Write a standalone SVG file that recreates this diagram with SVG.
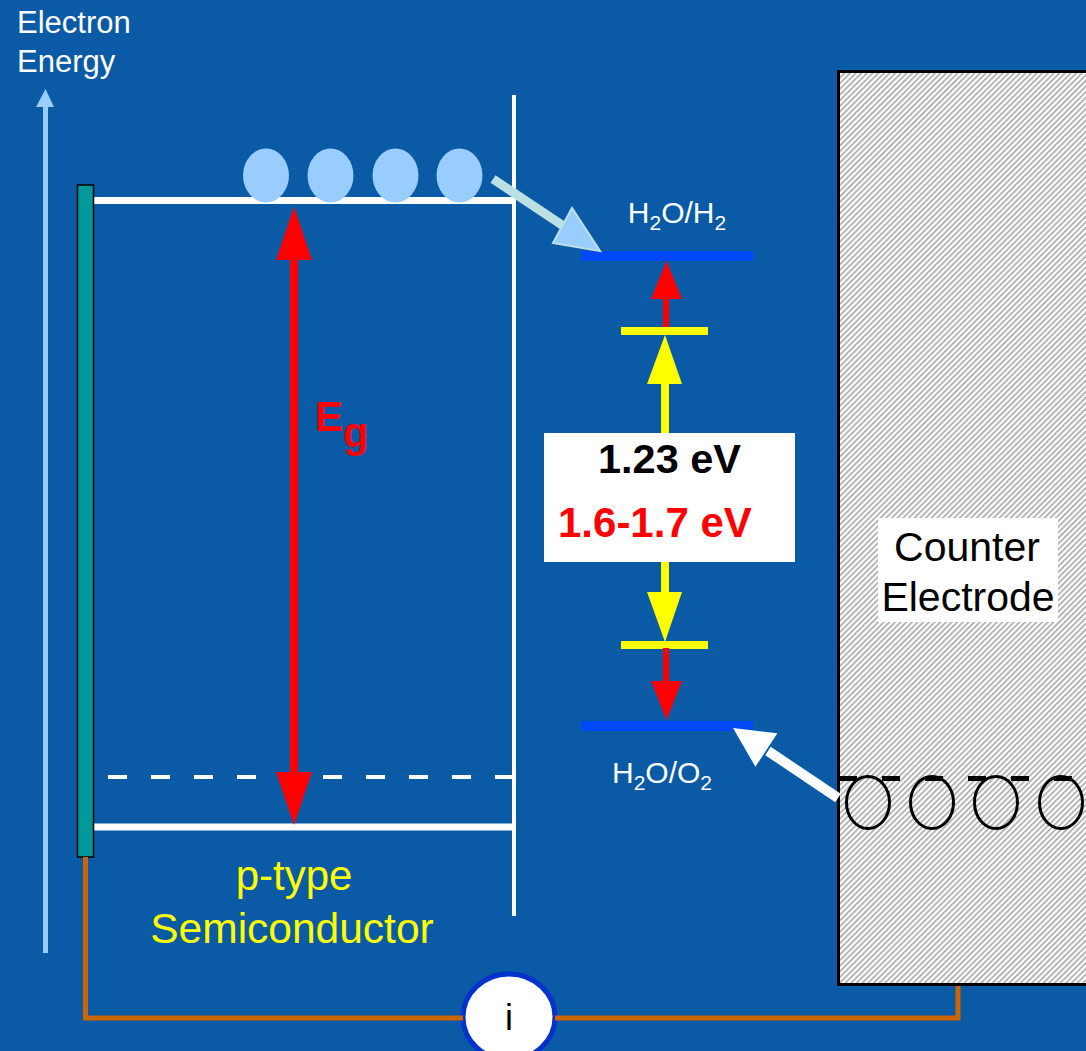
<svg xmlns="http://www.w3.org/2000/svg" width="1086" height="1051" viewBox="0 0 1086 1051">
<defs>
<pattern id="hatch" patternUnits="userSpaceOnUse" width="4" height="4" patternTransform="rotate(45)">
<rect width="4" height="4" fill="#ffffff"/>
<rect width="1.6" height="4" fill="#a6a6a6"/>
</pattern>
</defs>
<style>
text{font-family:"Liberation Sans",Arial,sans-serif}
.w{fill:#ffffff}
.wl{stroke:#ffffff;fill:none}
.bar{fill:#0048FF}
.red{fill:#FF0000}
.yel{fill:#FFFF00}
.el{fill:#99CCFF}
</style>
<rect width="1086" height="1051" fill="#0A5AA6"/>

<g id="axis">
<line x1="45.5" y1="953" x2="45.5" y2="104" stroke="#99CCFF" stroke-width="5"/>
<polygon points="45.5,89 54,107 36,107" fill="#99CCFF"/>
<text x="17" y="33" font-size="31" class="w">Electron</text>
<text x="17" y="72" font-size="31" class="w">Energy</text>
</g>

<g id="semiconductor">
<line x1="93" y1="200.5" x2="514" y2="200.5" class="wl" stroke-width="7"/>
<line x1="93" y1="827" x2="514" y2="827" class="wl" stroke-width="7"/>
<line x1="108" y1="777" x2="514" y2="777" class="wl" stroke-width="4" stroke-dasharray="19 24"/>
<line x1="514" y1="95" x2="514" y2="916" class="wl" stroke-width="4"/>
<text x="294" y="890" font-size="42" fill="#FFFF00" text-anchor="middle">p-type</text>
<text x="292" y="943" font-size="42.5" fill="#FFFF00" text-anchor="middle">Semiconductor</text>
</g>

<g id="contact">
<rect x="77.5" y="185" width="16" height="672" fill="#009999" stroke="#000000" stroke-width="1.5"/>
</g>

<g id="electrons">
<ellipse cx="266" cy="175.5" rx="23" ry="27" class="el"/>
<ellipse cx="330.5" cy="175.5" rx="23" ry="27" class="el"/>
<ellipse cx="395.5" cy="175.5" rx="23" ry="27" class="el"/>
<ellipse cx="459.5" cy="175.5" rx="23" ry="27" class="el"/>
</g>

<g id="eg">
<rect x="290" y="258" width="8" height="516" class="red"/>
<polygon points="294,207 312,260 276,260" class="red"/>
<polygon points="294,825 312,772 276,772" class="red"/>
<text x="315" y="431" font-size="42" font-weight="bold" fill="#FF0000">E<tspan dy="16">g</tspan></text>
</g>

<g id="h2-level">
<rect x="581" y="251" width="172" height="10" class="bar"/>
<text x="677" y="223" font-size="30" class="w" text-anchor="middle">H<tspan font-size="21" dy="7">2</tspan><tspan dy="-7">O/H</tspan><tspan font-size="21" dy="7">2</tspan></text>
</g>

<g id="o2-level">
<rect x="581" y="721" width="172" height="10" class="bar"/>
<text x="662" y="783" font-size="30" class="w" text-anchor="middle">H<tspan font-size="21" dy="7">2</tspan><tspan dy="-7">O/O</tspan><tspan font-size="21" dy="7">2</tspan></text>
</g>

<g id="potential">
<rect x="663" y="296" width="6" height="32" class="red"/>
<polygon points="666.5,261 682,299 651,299" class="red"/>
<rect x="621" y="327" width="87" height="8" class="yel"/>
<polygon points="665,335 682,384 647,384" class="yel"/>
<rect x="661" y="382" width="8" height="52" class="yel"/>
<rect x="661" y="561" width="8" height="33" class="yel"/>
<polygon points="665,642 682,592 647,592" class="yel"/>
<rect x="621" y="641" width="87" height="8" class="yel"/>
<rect x="663" y="648" width="6" height="36" class="red"/>
<polygon points="666.5,720 682,681 651,681" class="red"/>
<rect x="544" y="433" width="251" height="129" fill="#ffffff"/>
<text x="669.5" y="473" font-size="41.5" font-weight="bold" fill="#000000" text-anchor="middle">1.23 eV</text>
<text x="558" y="537" font-size="42" font-weight="bold" fill="#FF0000">1.6-1.7 eV</text>
</g>

<g id="counter-electrode">
<rect x="838.5" y="71.5" width="260" height="913" fill="url(#hatch)" stroke="#000000" stroke-width="3"/>
<line x1="839" y1="778.5" x2="1086" y2="778.5" stroke="#000000" stroke-width="5" stroke-dasharray="18 25"/>
<g fill="none" stroke="#000000" stroke-width="3">
<ellipse cx="868" cy="802.5" rx="21.5" ry="26"/>
<ellipse cx="932" cy="802.5" rx="21.5" ry="26"/>
<ellipse cx="996" cy="802.5" rx="21.5" ry="26"/>
<ellipse cx="1061" cy="802.5" rx="21.5" ry="26"/>
</g>
<rect x="878" y="518" width="180" height="104" fill="#ffffff"/>
<text x="967" y="561" font-size="41" fill="#000000" text-anchor="middle">Counter</text>
<text x="968" y="611" font-size="41" fill="#000000" text-anchor="middle">Electrode</text>
</g>

<g id="meter">
<ellipse cx="509" cy="1017" rx="46" ry="43" fill="#ffffff" stroke="#0033CC" stroke-width="5"/>
<text x="509" y="1030" font-size="36" fill="#000000" text-anchor="middle">i</text>
</g>

<g id="connectors">
<polyline points="85.5,857 85.5,1018 463,1018" fill="none" stroke="#CC6600" stroke-width="5"/>
<polyline points="555,1018 958,1018 958,986" fill="none" stroke="#CC6600" stroke-width="5"/>
<line x1="493" y1="179" x2="565" y2="227" stroke="#BBE0E3" stroke-width="9"/>
<polygon points="600,251 553,243 572,208" fill="#99CCFF" stroke="#BBE0E3" stroke-width="2"/>
<line x1="838" y1="798" x2="768" y2="751" stroke="#ffffff" stroke-width="10"/>
<polygon points="733,728 777.4,733.3 755.4,766.7" fill="#ffffff"/>
</g>
</svg>
